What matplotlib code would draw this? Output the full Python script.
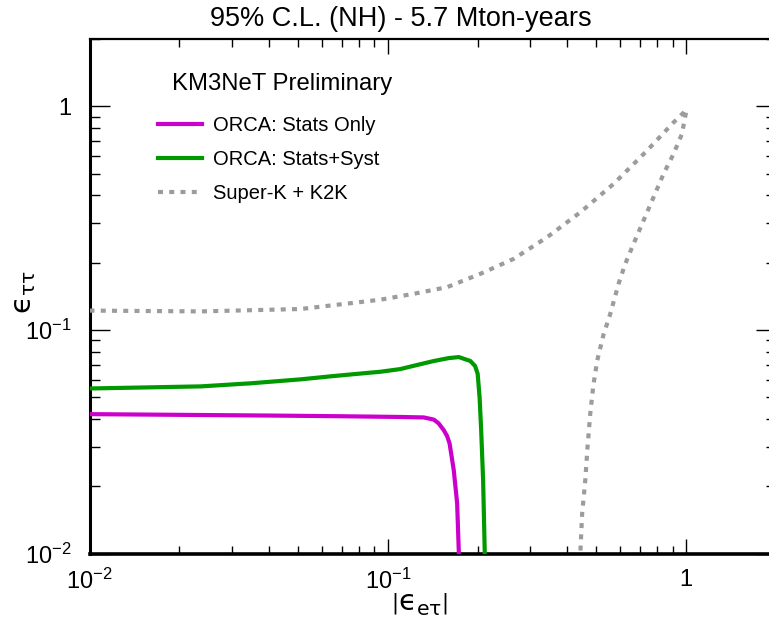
import matplotlib
matplotlib.use("Agg")
import matplotlib.pyplot as plt
from matplotlib.lines import Line2D
from matplotlib.ticker import FixedLocator, FixedFormatter, NullFormatter

plt.rcParams['font.family'] = ['Liberation Sans', 'DejaVu Sans']
plt.rcParams['mathtext.fontset'] = 'custom'
plt.rcParams['mathtext.rm'] = 'Liberation Sans'
plt.rcParams['mathtext.it'] = 'Liberation Sans'
plt.rcParams['mathtext.bf'] = 'Liberation Sans:bold'
plt.rcParams['mathtext.fallback'] = 'stixsans'

# ---- contour data: |eps_etau| vs eps_tautau ----
stats_only_x = [0.010, 0.020, 0.040, 0.070, 0.110, 0.132, 0.1426, 0.148, 0.154, 0.158,
                0.161, 0.1663, 0.1707, 0.173]
stats_only_y = [0.0420, 0.0417, 0.0414, 0.0411, 0.0408, 0.0406, 0.0397, 0.0382, 0.0356,
                0.0335, 0.0311, 0.0236, 0.0168, 0.0100]

stats_syst_x = [0.010, 0.0236, 0.0347, 0.0510, 0.0643, 0.0810, 0.0945, 0.110, 0.1254,
                0.1426, 0.160, 0.173, 0.189, 0.196, 0.200, 0.203, 0.2055, 0.2086, 0.2113]
stats_syst_y = [0.0547, 0.0559, 0.0577, 0.0601, 0.0620, 0.0638, 0.0650, 0.0668, 0.0697,
                0.0726, 0.0748, 0.0756, 0.0726, 0.0690, 0.0637, 0.0500, 0.0356, 0.0213,
                0.0100]

superk_x = [0.010, 0.0236, 0.051, 0.0945, 0.1222, 0.158, 0.2043, 0.2642, 0.3418, 0.4417,
            0.5708, 0.7385, 0.9067, 1.0025, 0.9674, 0.9067, 0.8395, 0.777, 0.7194, 0.6661,
            0.6249, 0.5934, 0.5567, 0.5274, 0.5035, 0.4884, 0.477, 0.467, 0.459, 0.448,
            0.442]
superk_y = [0.122, 0.121, 0.124, 0.1365, 0.1451, 0.1553, 0.1782, 0.2079, 0.2597, 0.3357,
            0.4495, 0.6329, 0.8467, 0.965, 0.7515, 0.6117, 0.4983, 0.3917, 0.3083, 0.2426,
            0.1975, 0.1608, 0.1181, 0.0945, 0.0731, 0.0565, 0.0423, 0.030, 0.0213,
            0.0151, 0.0102]

series_labels = ["ORCA: Stats Only", "ORCA: Stats+Syst", "Super-K + K2K"]
series_colors = ["#cc00cc", "#009900", "#9c9c9c"]

x_major = [0.01, 0.1, 1.0]
x_major_labels = [r"$10^{-2}$", r"$10^{-1}$", "1"]
y_major = [0.01, 0.1, 1.0]
y_major_labels = [r"$10^{-2}$", r"$10^{-1}$", "1"]
minor_ticks = [m * d for d in (0.01, 0.1, 1.0) for m in range(2, 10)]

title_text = "95% C.L. (NH) - 5.7 Mton-years"
legend_header = "KM3NeT Preliminary"
x_title = r"$\left|\mathrm{ϵ}_{\mathrm{e}\mathrm{τ}}\right|$"
y_title = r"$\mathrm{ϵ}_{\mathrm{ττ}}$"

# ---- figure ----
W, H = 769, 625
fig = plt.figure(figsize=(W / 100, H / 100), dpi=100)
ax = fig.add_axes([89.5 / W, (H - 553.5) / H, (776 - 89.5) / W, (553.5 - 39.0) / H])
ax.set_xscale("log")
ax.set_yscale("log")
ax.set_xlim(0.01, 2.0)
ax.set_ylim(0.01, 2.0)

lw = 3.0
dash = (1.2, 1.5)
ax.plot(stats_only_x, stats_only_y, color=series_colors[0], lw=lw,
        solid_joinstyle="round", zorder=3)
ax.plot(stats_syst_x, stats_syst_y, color=series_colors[1], lw=lw,
        solid_joinstyle="round", zorder=3)
ax.plot(superk_x, superk_y, color=series_colors[2], lw=lw,
        dashes=dash, dash_capstyle="butt", zorder=3)

# ticks on all four sides, pointing inwards
ax.xaxis.set_major_locator(FixedLocator(x_major))
ax.xaxis.set_major_formatter(FixedFormatter(x_major_labels))
ax.xaxis.set_minor_locator(FixedLocator(minor_ticks))
ax.xaxis.set_minor_formatter(NullFormatter())
ax.yaxis.set_major_locator(FixedLocator(y_major))
ax.yaxis.set_major_formatter(FixedFormatter(y_major_labels))
ax.yaxis.set_minor_locator(FixedLocator(minor_ticks))
ax.yaxis.set_minor_formatter(NullFormatter())

ax.tick_params(axis="x", which="major", direction="in", length=11, width=1.0,
               top=True, bottom=True, labelsize=17, pad=11)
ax.tick_params(axis="x", which="minor", direction="in", length=5.5, width=1.0,
               top=True, bottom=True)
ax.tick_params(axis="y", which="major", direction="in", length=14.5, width=1.0,
               left=True, right=True, labelsize=17, pad=13)
ax.tick_params(axis="y", which="minor", direction="in", length=7.5, width=1.0,
               left=True, right=True)

ax.spines["bottom"].set_linewidth(2.6)
ax.spines["left"].set_linewidth(2.2)
ax.spines["top"].set_linewidth(1.6)
ax.spines["right"].set_linewidth(1.6)

fig.text(401 / W, 1 - 19 / H, title_text, fontsize=19.5, ha="center", va="center")
ax.set_xlabel(x_title, fontsize=21, math_fontfamily="dejavusans")
ax.xaxis.set_label_coords((420 - 89.5) / (776 - 89.5), -(603 - 553.5) / (553.5 - 39.0))
ax.xaxis.label.set_va("center")
ax.set_ylabel(y_title, fontsize=21, math_fontfamily="dejavusans")
ax.yaxis.set_label_coords(-(89.5 - 24) / (776 - 89.5), (553.5 - 292) / (553.5 - 39.0))
ax.yaxis.label.set_va("center")

fig.text(172 / W, 1 - 84 / H, legend_header, fontsize=17.2, ha="left", va="center")
handles = [Line2D([], [], color=series_colors[0], lw=lw),
           Line2D([], [], color=series_colors[1], lw=lw),
           Line2D([], [], color=series_colors[2], lw=lw, dashes=dash,
                  dash_capstyle="butt")]
leg = ax.legend(handles, series_labels, loc="upper left",
                bbox_to_anchor=(158 / W, 1 - 116 / H), bbox_transform=fig.transFigure,
                frameon=False, fontsize=14.5, handlelength=2.2,
                handletextpad=0.55, labelspacing=0.75, borderpad=0.0,
                borderaxespad=0.0)

fig.savefig("out.png", dpi=100)
